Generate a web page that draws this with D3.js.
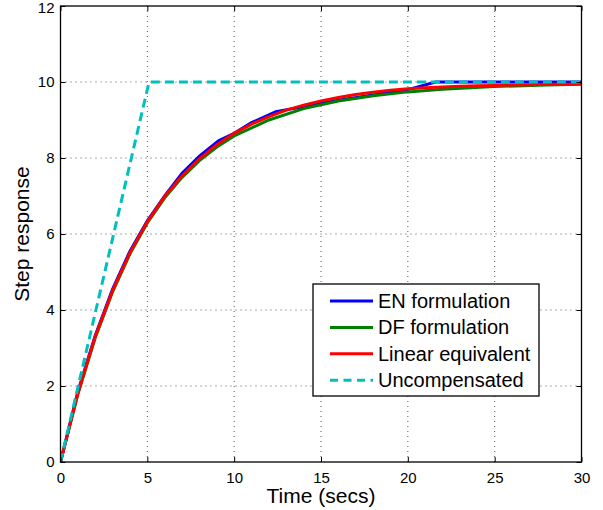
<!DOCTYPE html>
<html>
<head>
<meta charset="utf-8">
<script src="https://cdn.jsdelivr.net/npm/d3@7"></script>
<style>
  body { margin: 0; background: #fff; }
  text { font-family: "Liberation Sans", Arial, Helvetica, sans-serif; fill: #000; }
</style>
</head>
<body>
<div id="chart"></div>
<script>
  // values
  var xTicks = [0, 5, 10, 15, 20, 25, 30],
    yTicks = [0, 2, 4, 6, 8, 10, 12];

  var linTime = [0, 1, 2, 3, 4, 5, 6, 7, 8, 9, 10, 11, 12, 13, 14, 15, 16, 17, 18, 19, 20, 21, 22, 23, 24, 25, 26, 27, 28, 29, 30],
    linVal = [0, 1.81, 3.30, 4.51, 5.51, 6.32, 6.99, 7.53, 7.98, 8.35, 8.65, 8.89, 9.09, 9.26, 9.39, 9.50, 9.59, 9.67, 9.73, 9.78, 9.82, 9.85, 9.87, 9.89, 9.90, 9.91, 9.92, 9.93, 9.94, 9.94, 9.95];

  var enTime = [0, 1, 2, 3, 4, 5, 6, 7, 8, 9.1, 10, 11, 12.4, 14, 16, 18, 20, 21.6, 25, 30],
    enVal = [0, 1.85, 3.33, 4.55, 5.55, 6.35, 7.0, 7.6, 8.05, 8.45, 8.65, 8.93, 9.22, 9.35, 9.52, 9.66, 9.8, 10.0, 10.0, 10.0];

  var dfTime = [0, 1, 2, 3, 4, 5, 6, 7, 8, 9, 10, 12, 14, 16, 18, 20, 22, 25, 28, 30],
    dfVal = [0, 1.78, 3.27, 4.48, 5.48, 6.29, 6.95, 7.49, 7.93, 8.29, 8.58, 9.0, 9.3, 9.5, 9.64, 9.74, 9.81, 9.88, 9.92, 9.94];

  var uncTime = [0, 5.1, 30],
    uncVal = [0, 10, 10];

  var seriesNames = ['EN formulation', 'DF formulation', 'Linear equivalent', 'Uncompensated'];

  var width = 603,
    height = 510,
    plotL = 60.5,
    plotR = 581.5,
    plotT = 6,
    plotB = 462;

  var svg = d3.select('#chart')
    .append('svg')
    .attr('width', width)
    .attr('height', height);

  var x = d3.scaleLinear().domain([0, 30]).range([plotL, plotR]);
  var y = d3.scaleLinear().domain([0, 12]).range([plotB, plotT]);

  // grid
  svg.selectAll('.gx')
    .data(xTicks.slice(1, -1))
    .enter().append('line')
    .attr('x1', function(d){ return x(d); })
    .attr('x2', function(d){ return x(d); })
    .attr('y1', plotT)
    .attr('y2', plotB)
    .attr('stroke', '#555')
    .attr('stroke-width', 1)
    .attr('stroke-dasharray', '1,4');

  svg.selectAll('.gy')
    .data(yTicks.slice(1, -1))
    .enter().append('line')
    .attr('y1', function(d){ return y(d); })
    .attr('y2', function(d){ return y(d); })
    .attr('x1', plotL)
    .attr('x2', plotR)
    .attr('stroke', '#555')
    .attr('stroke-width', 1)
    .attr('stroke-dasharray', '1,4');

  // curves
  var line = d3.line()
    .x(function(d){ return x(d[0]); })
    .y(function(d){ return y(d[1]); });

  function pairs(t, v) {
    return t.map(function(d, i){ return [d, v[i]]; });
  }

  var series = [
    { data: pairs(enTime, enVal), color: '#0000ff', dash: null },
    { data: pairs(dfTime, dfVal), color: '#008000', dash: null },
    { data: pairs(linTime, linVal), color: '#ff0000', dash: null },
    { data: pairs(uncTime, uncVal), color: '#00bfbf', dash: '9,5' }
  ];

  svg.append('clipPath')
    .attr('id', 'plotClip')
    .append('rect')
    .attr('x', plotL)
    .attr('y', plotT - 2)
    .attr('width', plotR - plotL)
    .attr('height', plotB - plotT + 2);

  series.forEach(function(s){
    svg.append('path')
      .attr('d', line(s.data))
      .attr('fill', 'none')
      .attr('stroke', s.color)
      .attr('stroke-width', 3)
      .attr('stroke-dasharray', s.dash)
      .attr('clip-path', 'url(#plotClip)');
  });

  // axes box
  svg.append('rect')
    .attr('x', plotL)
    .attr('y', plotT)
    .attr('width', plotR - plotL)
    .attr('height', plotB - plotT)
    .attr('fill', 'none')
    .attr('stroke', '#000')
    .attr('stroke-width', 1.3);

  var xAxis = d3.axisBottom(x).tickValues(xTicks).tickSize(-5).tickPadding(10);
  var yAxis = d3.axisLeft(y).tickValues(yTicks).tickSize(-5).tickPadding(6);

  var gx = svg.append('g').attr('transform', 'translate(0,' + plotB + ')').call(xAxis);
  var gy = svg.append('g').attr('transform', 'translate(' + plotL + ',0)').call(yAxis);
  var gxt = svg.append('g').attr('transform', 'translate(0,' + plotT + ')')
    .call(d3.axisTop(x).tickValues(xTicks).tickSize(-5).tickFormat(''));
  var gyr = svg.append('g').attr('transform', 'translate(' + plotR + ',0)')
    .call(d3.axisRight(y).tickValues(yTicks).tickSize(-5).tickFormat(''));

  [gx, gy, gxt, gyr].forEach(function(g){
    g.select('.domain').remove();
    g.selectAll('.tick line').attr('stroke', '#000');
    g.selectAll('text').style('font-size', '15px').attr('font-family', null);
  });

  // keep the top label inside the page
  gy.selectAll('.tick text')
    .filter(function(d){ return d === 12; })
    .attr('dy', '0.45em');

  // axis labels
  svg.append('text')
    .attr('x', 321)
    .attr('y', 503)
    .attr('text-anchor', 'middle')
    .style('font-size', '21px')
    .text('Time (secs)');

  svg.append('text')
    .attr('transform', 'translate(29,' + ((plotT + plotB) / 2) + ') rotate(-90)')
    .attr('text-anchor', 'middle')
    .style('font-size', '21px')
    .text('Step response');

  // legend
  var lg = svg.append('g').attr('transform', 'translate(313,284)');
  lg.append('rect')
    .attr('width', 226)
    .attr('height', 112)
    .attr('fill', '#fff')
    .attr('stroke', '#000')
    .attr('stroke-width', 1.3);

  var item = lg.selectAll('.item')
    .data(series)
    .enter().append('g')
    .attr('transform', function(d, i){ return 'translate(0,' + (17 + i * 26.4) + ')'; });

  item.append('line')
    .attr('x1', 17)
    .attr('x2', 60)
    .attr('stroke', function(d){ return d.color; })
    .attr('stroke-width', 3)
    .attr('stroke-dasharray', function(d){ return d.dash ? '8,5.5' : null; });

  item.append('text')
    .attr('x', 65)
    .attr('dy', '0.35em')
    .style('font-size', '20px')
    .text(function(d, i){ return seriesNames[i]; });
</script>
</body>
</html>
